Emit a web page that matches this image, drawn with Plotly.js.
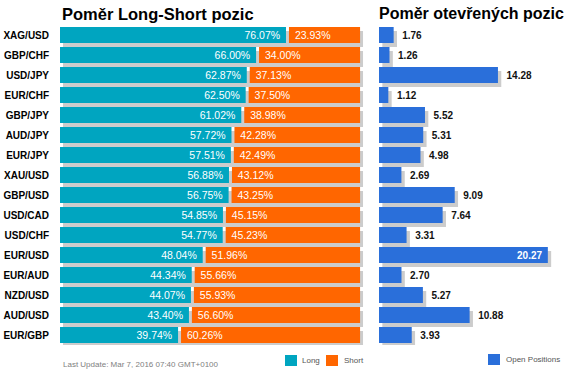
<!DOCTYPE html>
<html>
<head>
<meta charset="utf-8">
<script src="https://cdn.plot.ly/plotly-3.0.1.min.js"></script>
<style>html,body{margin:0;padding:0;background:#fff;}#chart{width:570px;height:372px;}</style>
</head>
<body>
<div id="chart"></div>
<script>
const categories = ["XAG/USD","GBP/CHF","USD/JPY","EUR/CHF","GBP/JPY","AUD/JPY","EUR/JPY","XAU/USD","GBP/USD","USD/CAD","USD/CHF","EUR/USD","EUR/AUD","NZD/USD","AUD/USD","EUR/GBP"];
const longPct = [76.07,66.00,62.87,62.50,61.02,57.72,57.51,56.88,56.75,54.85,54.77,48.04,44.34,44.07,43.40,39.74];
const shortPct = [23.93,34.00,37.13,37.50,38.98,42.28,42.49,43.12,43.25,45.15,45.23,51.96,55.66,55.93,56.60,60.26];
const openPos = [1.76,1.26,14.28,1.12,5.52,5.31,4.98,2.69,9.09,7.64,3.31,20.27,2.70,5.27,10.88,3.93];

const titleLeft = "Poměr Long-Short pozic";
const titleRight = "Poměr otevřených pozic";
const footer = "Last Update: Mar 7, 2016 07:40 GMT+0100";
const legendNames = ["Long","Short","Open Positions"];

const TEAL = "#00a5c0", ORANGE = "#ff6600", BLUE = "#2a6fda", SHADOW = "#cccccc";
const W = 570, H = 372, MT = 25, MB = 27;
const plotH = H - MT - MB;
const GAP = 1.0;          // white gap between long and short (in % units)
const LEFT_MAX = 103, RIGHT_MAX = 22.93;
const pos = categories.map((c, i) => i);
const NB = "\u00a0";
const sans = "Liberation Sans, Arial, sans-serif";

const traces = [
  // shadow left
  {type:"bar", orientation:"h", y:pos, x:longPct.map((v,i)=>v+shortPct[i]+GAP), base:longPct.map(()=>1),
   width:0.8, offset:-0.2, marker:{color:SHADOW}, xaxis:"x", yaxis:"y", hoverinfo:"skip", showlegend:false},
  // long
  {type:"bar", orientation:"h", name:legendNames[0], y:pos, x:longPct, base:longPct.map(()=>0),
   width:0.8, offset:-0.4, marker:{color:TEAL},
   text:longPct.map(v=>v.toFixed(2)+"%"+NB), textposition:"inside", insidetextanchor:"end", textangle:0,
   constraintext:"none", insidetextfont:{family:sans, size:10.5, color:"#ffffff"},
   xaxis:"x", yaxis:"y", hoverinfo:"skip", showlegend:false},
  // short
  {type:"bar", orientation:"h", name:legendNames[1], y:pos, x:shortPct, base:longPct.map(v=>v+GAP),
   width:0.8, offset:-0.4, marker:{color:ORANGE},
   text:shortPct.map(v=>NB+v.toFixed(2)+"%"), textposition:"inside", insidetextanchor:"start", textangle:0,
   constraintext:"none", insidetextfont:{family:sans, size:10.5, color:"#ffffff"},
   xaxis:"x", yaxis:"y", hoverinfo:"skip", showlegend:false},
  // shadow right
  {type:"bar", orientation:"h", y:pos, x:openPos, base:openPos.map(()=>0.4),
   width:0.8, offset:-0.2, marker:{color:SHADOW}, xaxis:"x2", yaxis:"y2", hoverinfo:"skip", showlegend:false},
  // open positions
  {type:"bar", orientation:"h", name:legendNames[2], y:pos, x:openPos, base:openPos.map(()=>0),
   width:0.8, offset:-0.4, marker:{color:BLUE},
   text:openPos.map(v=> v > RIGHT_MAX*0.75 ? v.toFixed(2)+NB : NB+NB+v.toFixed(2)),
   textposition:openPos.map(v=> v > RIGHT_MAX*0.75 ? "inside" : "outside"),
   insidetextanchor:"end", textangle:0, constraintext:"none", cliponaxis:false,
   insidetextfont:{family:sans, size:10, color:"#ffffff", weight:"bold"},
   outsidetextfont:{family:sans, size:10, color:"#111111", weight:"bold"},
   xaxis:"x2", yaxis:"y2", hoverinfo:"skip", showlegend:false}
];

const py = px => (H - MB - px) / plotH;   // pixel y -> paper y
const legendItems = [
  {x0:285, x1:297, y0:355, y1:366, color:TEAL, tx:300, label:legendNames[0]},
  {x0:326, x1:338, y0:355, y1:366, color:ORANGE, tx:342, label:legendNames[1]},
  {x0:488, x1:500, y0:354, y1:365, color:BLUE, tx:504, label:legendNames[2]}
];

const layout = {
  width:W, height:H,
  margin:{l:0, r:0, t:MT, b:MB, pad:0},
  paper_bgcolor:"#ffffff", plot_bgcolor:"#ffffff",
  barmode:"overlay", showlegend:false,
  xaxis:{domain:[60/W, 366/W], range:[0, LEFT_MAX], showgrid:false, zeroline:false, showticklabels:false, showline:false, fixedrange:true},
  xaxis2:{domain:[379/W, 1], range:[0, RIGHT_MAX], showgrid:false, zeroline:false, showticklabels:false, showline:false, fixedrange:true},
  yaxis:{range:[15.5, -0.5], tickvals:pos, ticktext:categories, showgrid:false, zeroline:false, showline:false,
         ticks:"", ticklabelstandoff:10, tickfont:{family:sans, size:10, color:"#000000", weight:"bold"}, anchor:"x", fixedrange:true},
  yaxis2:{range:[15.5, -0.5], matches:"y", showgrid:false, zeroline:false, showticklabels:false, showline:false, anchor:"x2", fixedrange:true},
  annotations:[
    {text:titleLeft, xref:"paper", yref:"paper", x:60/W, y:py(14), xanchor:"left", yanchor:"middle", showarrow:false,
     font:{family:sans, size:16.5, color:"#000000", weight:"bold"}},
    {text:titleRight, xref:"paper", yref:"paper", x:377/W, y:py(14), xanchor:"left", yanchor:"middle", showarrow:false,
     font:{family:sans, size:16, color:"#000000", weight:"bold"}},
    {text:footer, xref:"paper", yref:"paper", x:61/W, y:py(364), xanchor:"left", yanchor:"middle", showarrow:false,
     font:{family:sans, size:8, color:"#808080"}}
  ].concat(legendItems.map(it => ({text:it.label, xref:"paper", yref:"paper", x:it.tx/W, y:py((it.y0+it.y1)/2),
     xanchor:"left", yanchor:"middle", showarrow:false, font:{family:sans, size:8, color:"#555555"}}))),
  shapes: legendItems.map(it => ({type:"rect", xref:"paper", yref:"paper", x0:it.x0/W, x1:it.x1/W, y0:py(it.y1), y1:py(it.y0),
     fillcolor:it.color, line:{width:0}}))
};

Plotly.newPlot("chart", traces, layout, {displayModeBar:false, staticPlot:true});
</script>
</body>
</html>
